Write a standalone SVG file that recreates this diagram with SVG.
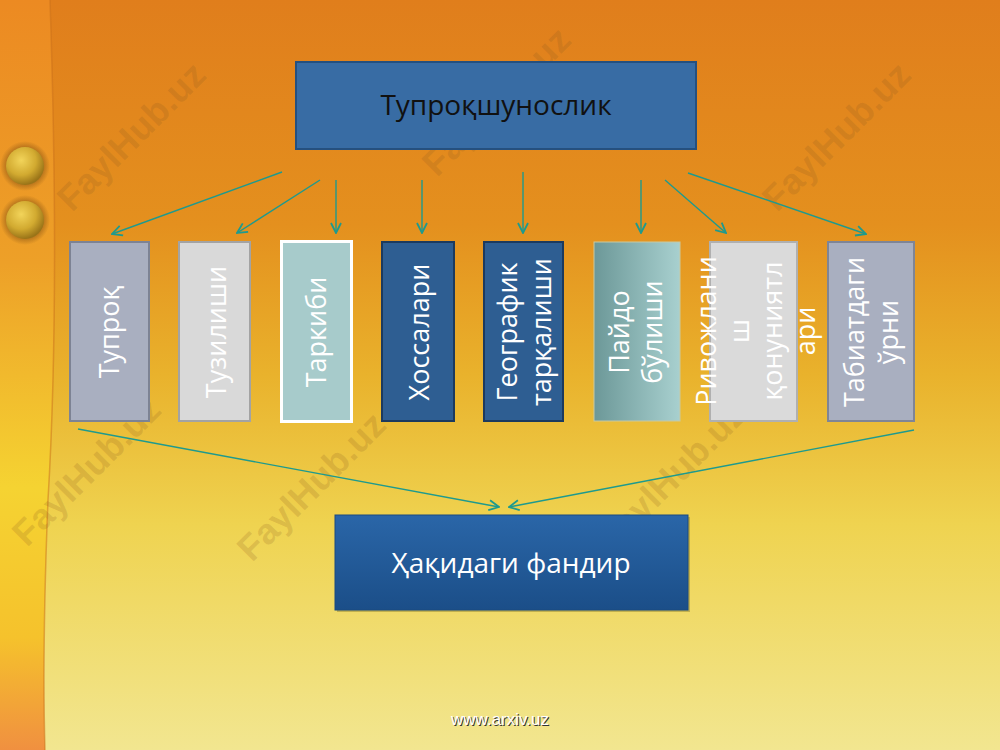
<svg xmlns="http://www.w3.org/2000/svg" width="1000" height="750" viewBox="0 0 1000 750">
<defs>
<linearGradient id="bg" x1="0" y1="0" x2="0" y2="1">
<stop offset="0" stop-color="#e07e1c"/>
<stop offset="0.3" stop-color="#e4901e"/>
<stop offset="0.5" stop-color="#e9b22c"/>
<stop offset="0.7" stop-color="#efd350"/>
<stop offset="1" stop-color="#f2e690"/>
</linearGradient>
<linearGradient id="strip" x1="0" y1="0" x2="0" y2="1">
<stop offset="0" stop-color="#ec8a22"/>
<stop offset="0.35" stop-color="#eda028"/>
<stop offset="0.65" stop-color="#f5d332"/>
<stop offset="0.85" stop-color="#f5c22c"/>
<stop offset="1" stop-color="#f09040"/>
</linearGradient>
<radialGradient id="ball" cx="0.4" cy="0.35" r="0.65">
<stop offset="0" stop-color="#f2d45a"/>
<stop offset="0.6" stop-color="#d2aa30"/>
<stop offset="1" stop-color="#9a7418"/>
</radialGradient>
<radialGradient id="glow" cx="0.5" cy="0.5" r="0.5">
<stop offset="0.6" stop-color="#7a4a10" stop-opacity="0.7"/>
<stop offset="1" stop-color="#7a4a10" stop-opacity="0"/>
</radialGradient>
<linearGradient id="paido" x1="0" y1="0" x2="1" y2="0">
<stop offset="0" stop-color="#6c9898"/>
<stop offset="1" stop-color="#a8d0cf"/>
</linearGradient>
<linearGradient id="bottomBox" x1="0" y1="0" x2="0" y2="1">
<stop offset="0" stop-color="#2a66a8"/>
<stop offset="1" stop-color="#1b4e88"/>
</linearGradient>
<marker id="arr" viewBox="0 0 12 12" refX="11" refY="6" markerWidth="12" markerHeight="12" markerUnits="userSpaceOnUse" orient="auto">
<polyline points="1,1 11,6 1,11" fill="none" stroke="#1e9a8e" stroke-width="1.8"/>
</marker>
</defs>
<style>
.vt{font-family:"Open Sans","Noto Sans",sans-serif;font-size:27px;fill:#ffffff;text-anchor:middle}
.wm{font-family:"Liberation Sans",Arial,sans-serif;font-size:36px;font-weight:bold;fill:#8a5a20;fill-opacity:0.2;text-anchor:middle}
.con{stroke:#1e9a8e;stroke-width:1.4;fill:none;marker-end:url(#arr)}
</style>

<!-- background -->
<rect x="0" y="0" width="1000" height="750" fill="url(#bg)"/>
<path d="M0,0 L50,0 Q60,300 48,500 Q42,650 45,750 L0,750 Z" fill="url(#strip)"/>
<path d="M50,0 Q60,300 48,500 Q42,650 45,750" fill="none" stroke="#c9701a" stroke-opacity="0.5" stroke-width="1.5"/>
<circle cx="25" cy="166" r="25" fill="url(#glow)"/>
<circle cx="25" cy="220" r="25" fill="url(#glow)"/>
<circle cx="25" cy="166" r="19" fill="url(#ball)"/>
<circle cx="25" cy="220" r="19" fill="url(#ball)"/>

<!-- watermarks -->
<g id="watermarks">
<text class="wm" transform="translate(140,145) rotate(-45)">FaylHub.uz</text>
<text class="wm" transform="translate(505,110) rotate(-45)">FaylHub.uz</text>
<text class="wm" transform="translate(845,145) rotate(-45)">FaylHub.uz</text>
<text class="wm" transform="translate(320,495) rotate(-45)">FaylHub.uz</text>
<text class="wm" transform="translate(680,485) rotate(-45)">FaylHub.uz</text>
<text class="wm" transform="translate(95,480) rotate(-45)">FaylHub.uz</text>
</g>

<!-- connectors -->
<g id="connectors">
<line class="con" x1="282" y1="172" x2="112" y2="234"/>
<line class="con" x1="320" y1="180" x2="237" y2="233"/>
<line class="con" x1="336" y1="180" x2="336" y2="233"/>
<line class="con" x1="422" y1="180" x2="422" y2="233"/>
<line class="con" x1="523" y1="172" x2="523" y2="233"/>
<line class="con" x1="641" y1="180" x2="641" y2="233"/>
<line class="con" x1="665" y1="180" x2="726" y2="233"/>
<line class="con" x1="688" y1="173" x2="866" y2="234"/>
<line class="con" x1="78" y1="429" x2="499" y2="507"/>
<line class="con" x1="914" y1="430" x2="509" y2="507"/>
</g>

<!-- top node -->
<g id="n-top">
<rect x="296" y="62" width="400" height="87" fill="#386ca4" stroke="#25507f" stroke-width="2"/>
<text x="496" y="115" font-family="Open Sans, Noto Sans, sans-serif" font-size="28" fill="#111111" text-anchor="middle">Тупроқшунослик</text>
</g>

<g id="n1">
<rect x="70" y="242" width="79" height="179" fill="#a9afc0" stroke="#7d8394" stroke-width="2"/>
<text class="vt" transform="translate(119,332) rotate(-90)">Тупроқ</text>
</g>
<g id="n2">
<rect x="179" y="242" width="71" height="179" fill="#d9d9d9" stroke="#a3a3a3" stroke-width="2"/>
<text class="vt" transform="translate(226,332) rotate(-90)">Тузилиши</text>
</g>
<g id="n3">
<rect x="281.5" y="241.5" width="70" height="180" fill="#a7cbcb" stroke="#ffffff" stroke-width="3"/>
<text class="vt" transform="translate(326,332) rotate(-90)">Таркиби</text>
</g>
<g id="n4">
<rect x="382" y="242" width="72" height="179" fill="#2e5e92" stroke="#1c3a5e" stroke-width="2"/>
<text class="vt" transform="translate(429,332) rotate(-90)">Хоссалари</text>
</g>
<g id="n5">
<rect x="484" y="242" width="79" height="179" fill="#2e5e92" stroke="#1c3a5e" stroke-width="2"/>
<text class="vt" transform="translate(517,332) rotate(-90)">Географик</text>
<text class="vt" transform="translate(551,332) rotate(-90)">тарқалиши</text>
</g>
<g id="n6">
<rect x="594" y="242" width="86" height="179" fill="url(#paido)" stroke="#c9c9a0" stroke-width="1"/>
<text class="vt" transform="translate(629,332) rotate(-90)">Пайдо</text>
<text class="vt" transform="translate(662,332) rotate(-90)">бўлиши</text>
</g>
<g id="n7">
<rect x="710" y="242" width="87" height="179" fill="#dadada" stroke="#b0b0b0" stroke-width="2"/>
<text class="vt" transform="translate(716,331) rotate(-90)">Ривожлани</text>
<text class="vt" transform="translate(749,331) rotate(-90)">ш</text>
<text class="vt" transform="translate(782,331) rotate(-90)">қонуниятл</text>
<text class="vt" transform="translate(815,331) rotate(-90)">ари</text>
</g>
<g id="n8">
<rect x="828" y="242" width="86" height="179" fill="#a9afc0" stroke="#7f8596" stroke-width="2"/>
<text class="vt" transform="translate(864,332) rotate(-90)">Табиатдаги</text>
<text class="vt" transform="translate(898,332) rotate(-90)">ўрни</text>
</g>

<!-- bottom node -->
<g id="n-bottom">
<rect x="337" y="517" width="353" height="95" fill="#6a6020" fill-opacity="0.35"/>
<rect x="335" y="515" width="353" height="95" fill="url(#bottomBox)" stroke="#1a4a80" stroke-width="1"/>
<text x="511" y="573" font-family="Open Sans, Noto Sans, sans-serif" font-size="28" fill="#ffffff" text-anchor="middle">Ҳақидаги фандир</text>
</g>

<!-- footer -->
<text x="501" y="726" font-family="Liberation Sans, Arial, sans-serif" font-size="17" fill="#333333" text-anchor="middle">www.arxiv.uz</text>
<text x="500" y="725" font-family="Liberation Sans, Arial, sans-serif" font-size="17" fill="#ffffff" text-anchor="middle">www.arxiv.uz</text>
</svg>
